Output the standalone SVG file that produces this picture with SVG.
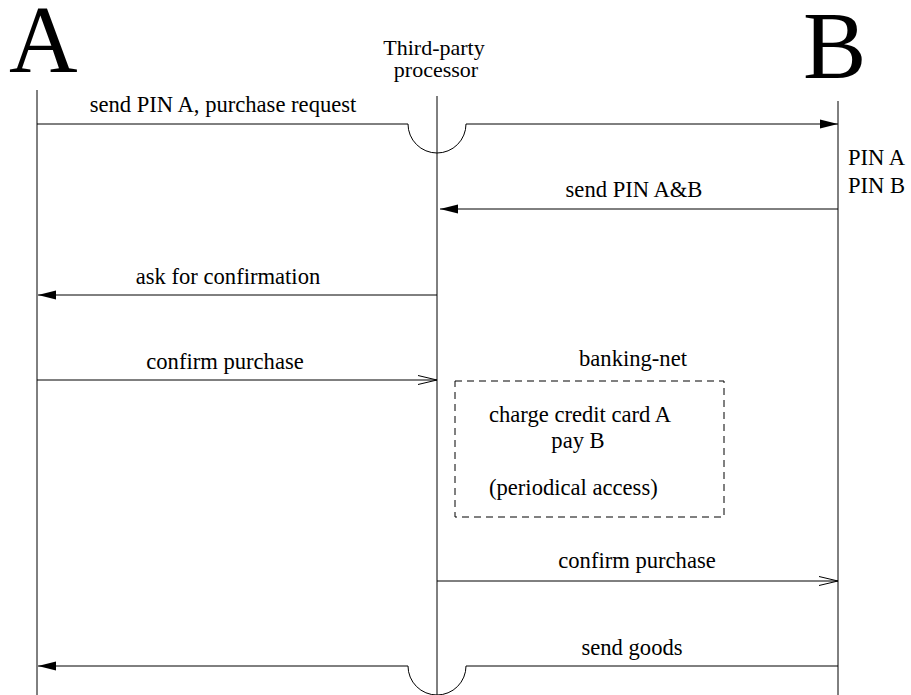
<svg xmlns="http://www.w3.org/2000/svg" width="911" height="695" viewBox="0 0 911 695">
<style>
.t{font-family:"Liberation Serif","Times New Roman",serif;font-size:22.6px;fill:#000}
.big{font-family:"Liberation Serif","Times New Roman",serif;font-size:95px;fill:#000}
.ln{stroke:#000;stroke-width:1;fill:none}
.box{stroke:#000;stroke-width:1;fill:none;stroke-dasharray:7 5}
</style>
<defs>
<marker id="fill" markerUnits="userSpaceOnUse" markerWidth="20" markerHeight="10" refX="18" refY="4.5" orient="auto" overflow="visible">
<path d="M0,0 L18,4.5 L0,9 Z" fill="#000"/>
</marker>
<marker id="open" markerUnits="userSpaceOnUse" markerWidth="20" markerHeight="10" refX="19" refY="4.5" orient="auto" overflow="visible">
<path d="M0,0 L19,4.5 L0,9" fill="none" stroke="#000" stroke-width="1"/>
</marker>
</defs>
<g id="A">
<text class="big" x="9" y="72">A</text>
<line class="ln" x1="37" y1="90" x2="37" y2="695"/>
</g>
<g id="processor">
<text class="t" x="434" y="55" text-anchor="middle" style="font-size:22px">Third-party</text>
<text class="t" x="436" y="77" text-anchor="middle" style="font-size:22px">processor</text>
<line class="ln" x1="437" y1="96" x2="437" y2="695"/>
</g>
<g id="B">
<text class="big" x="803" y="78">B</text>
<line class="ln" x1="838" y1="101" x2="838" y2="695"/>
<text class="t" x="848" y="165">PIN A</text>
<text class="t" x="848" y="193">PIN B</text>
</g>
<g id="banking-net">
<text class="t" x="633" y="366" text-anchor="middle">banking-net</text>
<rect class="box" x="455" y="381" width="269" height="136"/>
<text class="t" x="489" y="422">charge credit card A</text>
<text class="t" x="578" y="448" text-anchor="middle">pay B</text>
<text class="t" x="489" y="495">(periodical access)</text>
</g>
<g id="connectors">
<path class="ln" d="M37,124 H408 A29,29 0 0 0 466,124 H838" marker-end="url(#fill)"/>
<text class="t" x="223" y="112" text-anchor="middle">send PIN A, purchase request</text>
<path class="ln" d="M838,209 H440" marker-end="url(#fill)"/>
<text class="t" x="634" y="197" text-anchor="middle">send PIN A&amp;B</text>
<path class="ln" d="M437,295 H38" marker-end="url(#fill)"/>
<text class="t" x="228" y="284" text-anchor="middle">ask for confirmation</text>
<path class="ln" d="M37,380 H437" marker-end="url(#open)"/>
<text class="t" x="225" y="369" text-anchor="middle">confirm purchase</text>
<path class="ln" d="M437,581 H838" marker-end="url(#open)"/>
<text class="t" x="637" y="568" text-anchor="middle">confirm purchase</text>
<path class="ln" d="M838,666 H466 A29,29 0 0 1 408,666 H38" marker-end="url(#fill)"/>
<text class="t" x="632" y="655" text-anchor="middle">send goods</text>
</g>
</svg>
